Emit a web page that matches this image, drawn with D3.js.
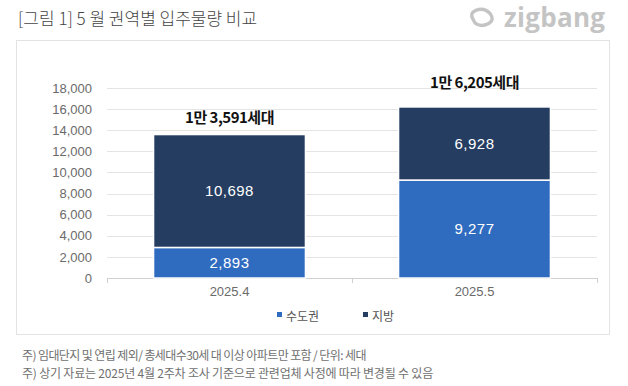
<!DOCTYPE html>
<html><head><meta charset="utf-8">
<script src="https://cdn.jsdelivr.net/npm/d3@7"></script>
<style>
body{margin:0;background:#fff;}
svg{display:block;font-family:"Noto Sans CJK KR","Noto Sans",sans-serif;}
</style></head>
<body><svg id="c" width="628" height="386"></svg>
<script>
const categories = ["2025.4", "2025.5"];
const seriesNames = ["수도권", "지방"];
const capital = [2893, 9277];
const regional = [10698, 6928];
const totalLabels = ["1만 3,591세대", "1만 6,205세대"];
const yTicks = [0, 2000, 4000, 6000, 8000, 10000, 12000, 14000, 16000, 18000];
const colors = ["#2F6BBF", "#253D61"];

const svg = d3.select("#c");

// title
svg.append("text").attr("x", 18).attr("y", 25).attr("font-size", 17).attr("fill", "#444")
  .attr("font-family", "'Noto Sans CJK KR'").attr("font-weight", 300).text("[그림 1] 5 월 권역별 입주물량 비교");

// logo
const logo = svg.append("g").attr("transform", "translate(470,8)");
logo.append("path").attr("d", "M3,9 Q1,2 8,1 Q17,0 21,8 Q24,15 17,17 Q8,19 4,13 Z")
  .attr("fill", "none").attr("stroke", "#c4c4c4").attr("stroke-width", 3.4).attr("transform","rotate(-15,12,10)");
logo.append("text").attr("x", 34).attr("y", 19).attr("font-size", 26).attr("font-weight", 700)
  .attr("fill", "#c4c4c4").attr("font-family", "'Open Sans',sans-serif").attr("letter-spacing", 0.3).text("zigbang");

// frame
svg.append("rect").attr("x", 16.5).attr("y", 40.5).attr("width", 593).attr("height", 294)
  .attr("fill", "none").attr("stroke", "#e3e3e3");

const x = d3.scaleBand().domain(categories).range([107, 597]).paddingInner(0.38).paddingOuter(0.19);
const y = d3.scaleLinear().domain([0, 18000]).range([278, 88]);

// grid
svg.append("g").selectAll("line").data(yTicks).join("line")
  .attr("x1", 107).attr("x2", 597).attr("y1", d => Math.round(y(d)) + 0.5).attr("y2", d => Math.round(y(d)) + 0.5)
  .attr("stroke", d => d === 0 ? "#d0d0d0" : "#e4e4e4");

// y axis labels
const yAxis = d3.axisLeft(y).tickValues(yTicks).tickFormat(d3.format(",")).tickSize(0).tickPadding(0);
const yg = svg.append("g").attr("transform", "translate(92,0)").call(yAxis);
yg.select(".domain").remove();
yg.selectAll("text").attr("font-size", 13).attr("fill", "#6a6a6a").attr("font-family", "'Liberation Sans',Arial,sans-serif");

// x axis
const xAxis = d3.axisBottom(x).tickSize(0).tickPadding(9);
const xg = svg.append("g").attr("transform", "translate(0,278)").call(xAxis);
xg.select(".domain").remove();
xg.selectAll("text").attr("font-size", 13).attr("fill", "#6a6a6a").attr("font-family", "'Liberation Sans',Arial,sans-serif");
// category boundary ticks
const bounds = [107, (x(categories[0]) + x.bandwidth() + x(categories[1])) / 2, 597];
svg.append("g").selectAll("line").data(bounds).join("line")
  .attr("x1", d => Math.round(d) + 0.5).attr("x2", d => Math.round(d) + 0.5).attr("y1", 278).attr("y2", 283)
  .attr("stroke", "#d0d0d0");

// stacked bars
const data = categories.map((c, i) => ({cat: c, "수도권": capital[i], "지방": regional[i]}));
const stack = d3.stack().keys(seriesNames)(data);
const groups = svg.append("g").selectAll("g").data(stack).join("g").attr("fill", (d, i) => colors[i]);
groups.selectAll("rect").data(d => d).join("rect")
  .attr("x", d => x(d.data.cat)).attr("width", x.bandwidth())
  .attr("y", d => y(d[1])).attr("height", d => y(d[0]) - y(d[1]))
  .attr("stroke", "#fff").attr("stroke-width", 1.5);

groups.selectAll("text").data(d => d).join("text")
  .attr("x", d => x(d.data.cat) + x.bandwidth() / 2)
  .attr("y", d => (y(d[0]) + y(d[1])) / 2 + 5)
  .attr("text-anchor", "middle").attr("fill", "#fff").attr("font-size", 15)
  .attr("font-family", "'Liberation Sans',Arial,sans-serif").attr("letter-spacing", 0.5)
  .text(d => d3.format(",")(d[1] - d[0]));

// totals
const totalOffsets = [12, 19];
svg.append("g").selectAll("text").data(categories).join("text")
  .attr("x", (d) => x(d) + x.bandwidth() / 2)
  .attr("y", (d, i) => y(capital[i] + regional[i]) - totalOffsets[i])
  .attr("text-anchor", "middle").attr("font-size", 15).attr("font-weight", 700).attr("fill", "#111")
  .attr("letter-spacing", -0.5)
  .text((d, i) => totalLabels[i]);

// legend
const lg = svg.append("g").selectAll("g").data(seriesNames).join("g")
  .attr("transform", (d, i) => `translate(${277 + i * 86},316)`);
lg.append("rect").attr("x", 0).attr("y", -4).attr("width", 5).attr("height", 5).attr("fill", (d, i) => colors[i]);
lg.append("text").attr("x", 9).attr("y", 1).attr("dy", "0.35em").attr("font-size", 12).attr("fill", "#555").text(d => d);

// footnotes
const notes = ["주) 임대단지 및 연립 제외/ 총세대수30세 대 이상 아파트만 포함 / 단위: 세대",
  "주) 상기 자료는 2025년 4월 2주차 조사 기준으로 관련업체 사정에 따라 변경될 수 있음"];
const noteSpacing = [-0.6, -0.2];
svg.append("g").selectAll("text").data(notes).join("text")
  .attr("x", 22).attr("y", (d, i) => 360 + i * 18).attr("font-size", 12).attr("fill", "#707070")
  .attr("letter-spacing", (d, i) => noteSpacing[i]).text(d => d);
</script></body></html>
